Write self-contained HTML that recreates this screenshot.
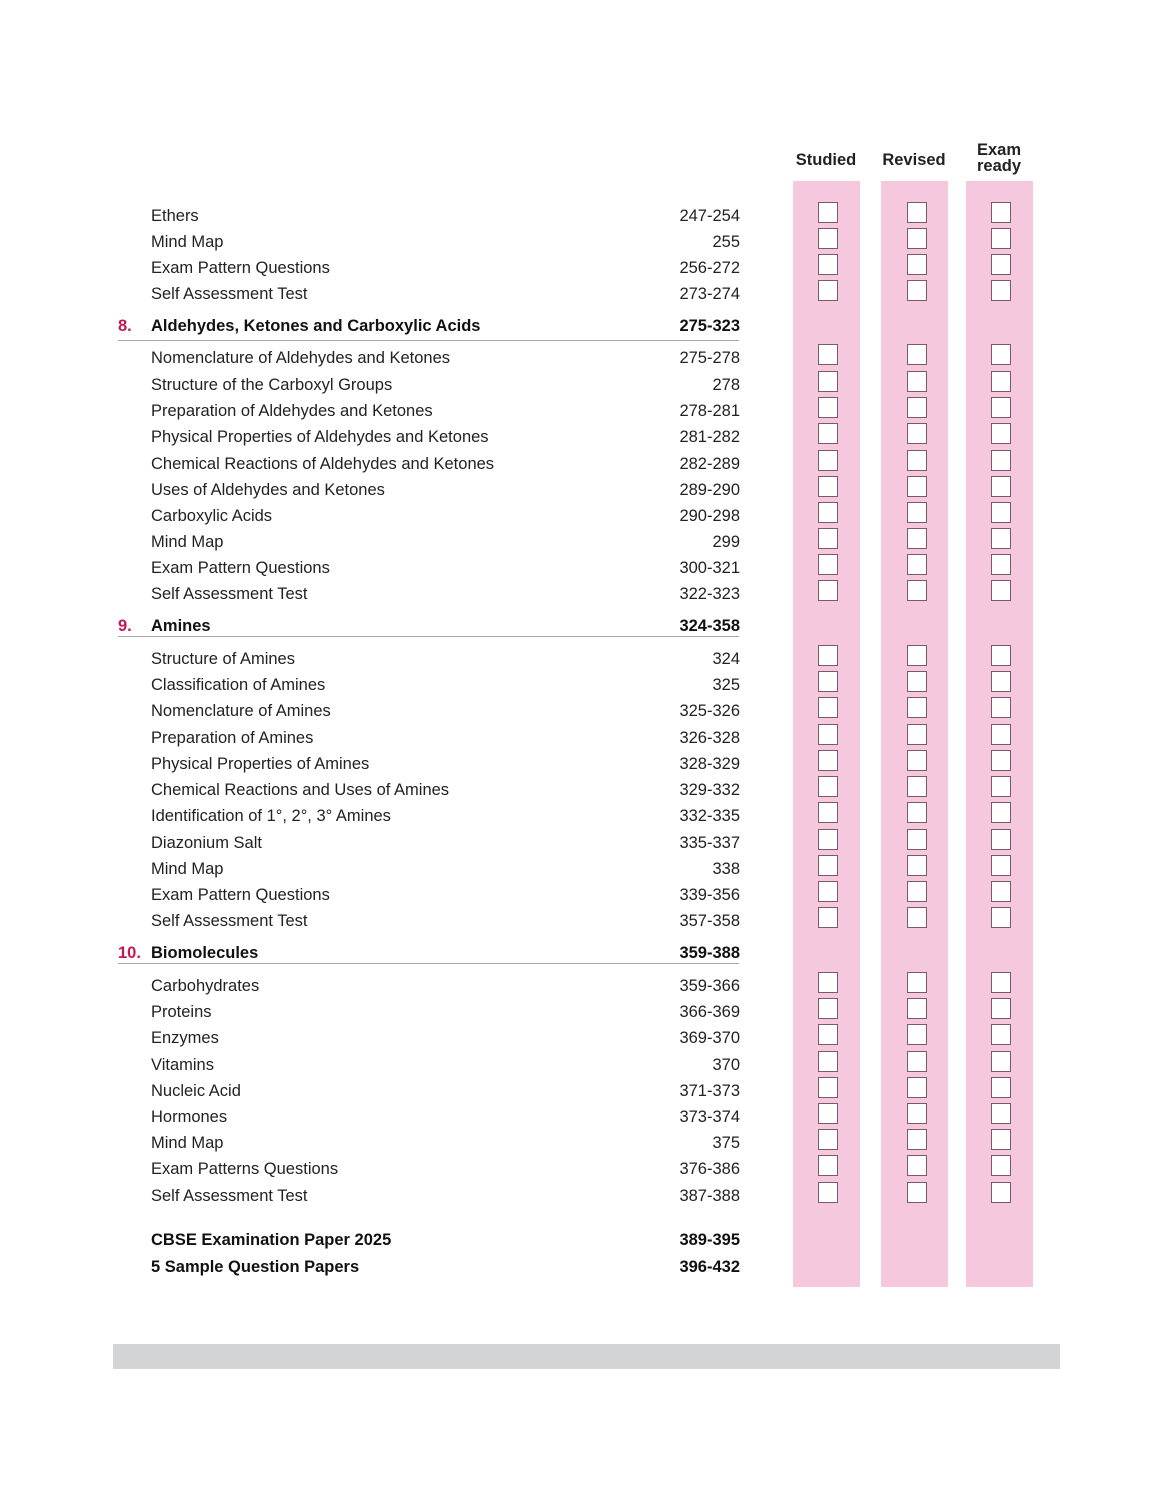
<!DOCTYPE html>
<html><head><meta charset="utf-8"><style>
body{margin:0;width:1174px;height:1500px;background:#fff;position:relative;font-family:"Liberation Sans",sans-serif;color:#222;overflow:hidden}
.r,.h{position:absolute;left:0;width:740px;height:22px;line-height:22px;font-size:16.5px}
.r .t,.h .t{position:absolute;left:151px;white-space:nowrap}
.r .p,.h .p{position:absolute;right:0;text-align:right}
.h{font-weight:bold;color:#111}
.h .n{position:absolute;left:118px;color:#c2185b}
.ln{position:absolute;left:118px;width:621px;height:1px;background:#aaa}
.col{position:absolute;top:181px;height:1106px;width:67px;background:#f6c8dd}
.cb{position:absolute;width:18px;height:19px;border:1.3px solid #7a5a6a;background:#fff}
.hd{position:absolute;font-weight:bold;font-size:16.5px;text-align:center;line-height:16px;color:#222}
</style></head><body>
<div class="col" style="left:793px"></div>
<div class="col" style="left:881px"></div>
<div class="col" style="left:966px"></div>
<div class="hd" style="left:786px;width:80px;top:152px">Studied</div>
<div class="hd" style="left:874px;width:80px;top:152px">Revised</div>
<div class="hd" style="left:959px;width:80px;top:142px">Exam<br>ready</div>

<div class="r" style="top:205px"><span class="t">Ethers</span><span class="p">247-254</span></div>
<div class="r" style="top:231px"><span class="t">Mind Map</span><span class="p">255</span></div>
<div class="r" style="top:257px"><span class="t">Exam Pattern Questions</span><span class="p">256-272</span></div>
<div class="r" style="top:283px"><span class="t">Self Assessment Test</span><span class="p">273-274</span></div>
<div class="h" style="top:315px"><span class="n">8.</span><span class="t">Aldehydes, Ketones and Carboxylic Acids</span><span class="p">275-323</span></div>
<div class="ln" style="top:340px"></div>
<div class="r" style="top:347px"><span class="t">Nomenclature of Aldehydes and Ketones</span><span class="p">275-278</span></div>
<div class="r" style="top:374px"><span class="t">Structure of the Carboxyl Groups</span><span class="p">278</span></div>
<div class="r" style="top:400px"><span class="t">Preparation of Aldehydes and Ketones</span><span class="p">278-281</span></div>
<div class="r" style="top:426px"><span class="t">Physical Properties of Aldehydes and Ketones</span><span class="p">281-282</span></div>
<div class="r" style="top:453px"><span class="t">Chemical Reactions of Aldehydes and Ketones</span><span class="p">282-289</span></div>
<div class="r" style="top:479px"><span class="t">Uses of Aldehydes and Ketones</span><span class="p">289-290</span></div>
<div class="r" style="top:505px"><span class="t">Carboxylic Acids</span><span class="p">290-298</span></div>
<div class="r" style="top:531px"><span class="t">Mind Map</span><span class="p">299</span></div>
<div class="r" style="top:557px"><span class="t">Exam Pattern Questions</span><span class="p">300-321</span></div>
<div class="r" style="top:583px"><span class="t">Self Assessment Test</span><span class="p">322-323</span></div>
<div class="h" style="top:615px"><span class="n">9.</span><span class="t">Amines</span><span class="p">324-358</span></div>
<div class="ln" style="top:636px"></div>
<div class="r" style="top:648px"><span class="t">Structure of Amines</span><span class="p">324</span></div>
<div class="r" style="top:674px"><span class="t">Classification of Amines</span><span class="p">325</span></div>
<div class="r" style="top:700px"><span class="t">Nomenclature of Amines</span><span class="p">325-326</span></div>
<div class="r" style="top:727px"><span class="t">Preparation of Amines</span><span class="p">326-328</span></div>
<div class="r" style="top:753px"><span class="t">Physical Properties of Amines</span><span class="p">328-329</span></div>
<div class="r" style="top:779px"><span class="t">Chemical Reactions and Uses of Amines</span><span class="p">329-332</span></div>
<div class="r" style="top:805px"><span class="t">Identification of 1°, 2°, 3° Amines</span><span class="p">332-335</span></div>
<div class="r" style="top:832px"><span class="t">Diazonium Salt</span><span class="p">335-337</span></div>
<div class="r" style="top:858px"><span class="t">Mind Map</span><span class="p">338</span></div>
<div class="r" style="top:884px"><span class="t">Exam Pattern Questions</span><span class="p">339-356</span></div>
<div class="r" style="top:910px"><span class="t">Self Assessment Test</span><span class="p">357-358</span></div>
<div class="h" style="top:942px"><span class="n">10.</span><span class="t">Biomolecules</span><span class="p">359-388</span></div>
<div class="ln" style="top:963px"></div>
<div class="r" style="top:975px"><span class="t">Carbohydrates</span><span class="p">359-366</span></div>
<div class="r" style="top:1001px"><span class="t">Proteins</span><span class="p">366-369</span></div>
<div class="r" style="top:1027px"><span class="t">Enzymes</span><span class="p">369-370</span></div>
<div class="r" style="top:1054px"><span class="t">Vitamins</span><span class="p">370</span></div>
<div class="r" style="top:1080px"><span class="t">Nucleic Acid</span><span class="p">371-373</span></div>
<div class="r" style="top:1106px"><span class="t">Hormones</span><span class="p">373-374</span></div>
<div class="r" style="top:1132px"><span class="t">Mind Map</span><span class="p">375</span></div>
<div class="r" style="top:1158px"><span class="t">Exam Patterns Questions</span><span class="p">376-386</span></div>
<div class="r" style="top:1185px"><span class="t">Self Assessment Test</span><span class="p">387-388</span></div>
<div class="h" style="top:1229px"><span class="t">CBSE Examination Paper 2025</span><span class="p">389-395</span></div>
<div class="h" style="top:1256px"><span class="t">5 Sample Question Papers</span><span class="p">396-432</span></div>

<div style="position:absolute;left:113px;top:1344px;width:947px;height:25px;background:#d3d4d6"></div>
<script>
document.querySelectorAll('.r').forEach(function(r){
  var t=parseInt(r.style.top)-3;
  [818,907,991].forEach(function(x){
    var b=document.createElement('div');b.className='cb';
    b.style.left=x+'px';b.style.top=t+'px';document.body.appendChild(b);
  });
});
</script>
</body></html>
